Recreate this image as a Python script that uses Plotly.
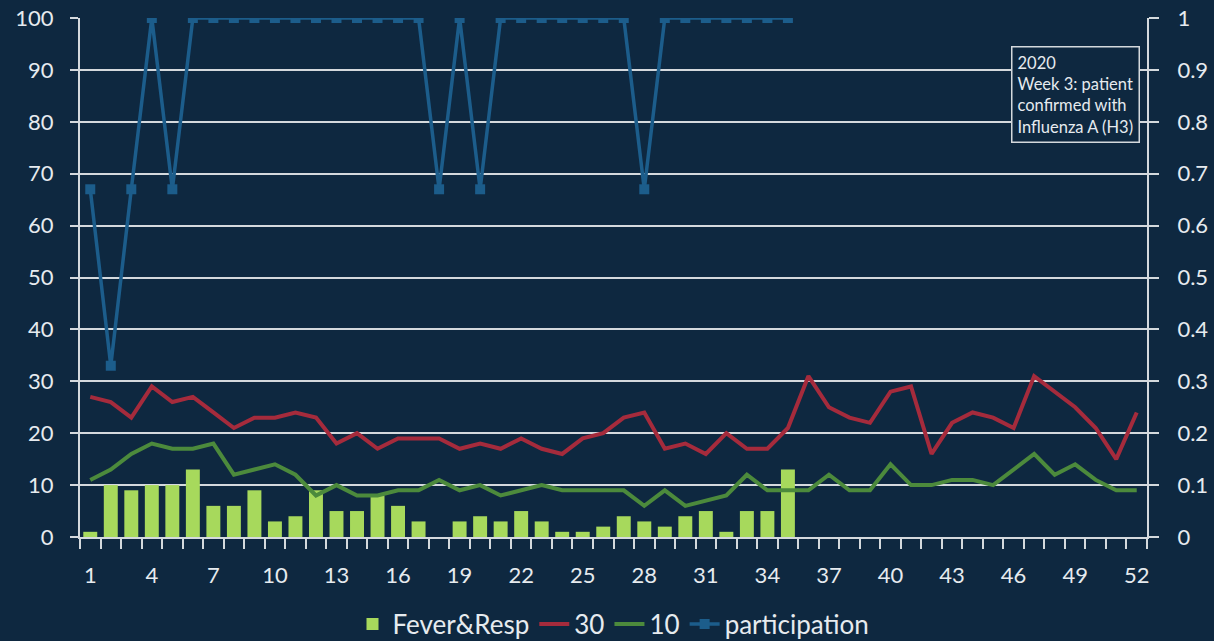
import plotly.graph_objects as go

weeks = list(range(1, 53))
fever_resp = [1, 10, 9, 10, 10, 13, 6, 6, 9, 3, 4, 9, 5, 5, 8, 6, 3, 0, 3, 4,
              3, 5, 3, 1, 1, 2, 4, 3, 2, 4, 5, 1, 5, 5, 13]
line_30 = [27, 26, 23, 29, 26, 27, 24, 21, 23, 23, 24, 23, 18, 20, 17, 19, 19, 19, 17, 18,
           17, 19, 17, 16, 19, 20, 23, 24, 17, 18, 16, 20, 17, 17, 21, 31, 25, 23, 22, 28,
           29, 16, 22, 24, 23, 21, 31, 28, 25, 21, 15, 24]
line_10 = [11, 13, 16, 18, 17, 17, 18, 12, 13, 14, 12, 8, 10, 8, 8, 9, 9, 11, 9, 10,
           8, 9, 10, 9, 9, 9, 9, 6, 9, 6, 7, 8, 12, 9, 9, 9, 12, 9, 9, 14,
           10, 10, 11, 11, 10, 13, 16, 12, 14, 11, 9, 9]
participation = [0.67, 0.33, 0.67, 1, 0.67, 1, 1, 1, 1, 1, 1, 1, 1, 1, 1, 1, 1, 0.67, 1, 0.67,
                 1, 1, 1, 1, 1, 1, 1, 0.67, 1, 1, 1, 1, 1, 1, 1]
x_tick_vals = list(range(1, 53, 3))
y_left_ticks = list(range(0, 101, 10))
y_right_ticks = [round(i / 10, 1) for i in range(0, 11)]
y_right_labels = ["0"] + [f"{v:g}" for v in y_right_ticks[1:]]
note_text = "2020<br>Week 3: patient<br>confirmed with<br>Influenza A (H3)"

BG = "#0e2840"
FG = "#e6ebef"
GRID = "#d4d9dd"
FONT = "Lato, Open Sans, sans-serif"

fig = go.Figure()
fig.add_trace(go.Bar(x=weeks[:len(fever_resp)], y=fever_resp, name="Fever&Resp",
                     marker=dict(color="#a7d95c", line=dict(width=0)), width=0.68))
fig.add_trace(go.Scatter(x=weeks, y=line_30, name="30", mode="lines",
                         line=dict(color="#a52b3c", width=4)))
fig.add_trace(go.Scatter(x=weeks, y=line_10, name="10", mode="lines",
                         line=dict(color="#4c8a3c", width=4)))
fig.add_trace(go.Scatter(x=weeks[:len(participation)], y=participation, name="participation",
                         mode="lines+markers", yaxis="y2",
                         line=dict(color="#1c5d8b", width=3.5),
                         marker=dict(symbol="square", size=10, color="#1c5d8b")))

fig.update_layout(
    template="none",
    width=1214, height=641,
    margin=dict(l=80, r=67, t=18, b=104, autoexpand=False),
    paper_bgcolor=BG, plot_bgcolor=BG,
    font=dict(family=FONT, color=FG, size=22),
    showlegend=True,
    legend=dict(orientation="h", x=0.5, xanchor="center", y=-0.168, yanchor="middle",
                font=dict(size=26, color=FG), bgcolor="rgba(0,0,0,0)",
                itemwidth=30, tracegroupgap=0),
    xaxis=dict(range=[0.5, 52.5], tickmode="array", tickvals=x_tick_vals,
               ticks="", showgrid=False, zeroline=False, automargin=False,
               showline=True, linecolor=GRID, linewidth=2,
               ticklabelstandoff=18,
               tickfont=dict(size=22, color=FG),
               minor=dict(ticks="outside", tick0=0.5, dtick=1, ticklen=10,
                          tickwidth=2, tickcolor=GRID, showgrid=False)),
    yaxis=dict(range=[0, 100], tickmode="array", tickvals=y_left_ticks,
               ticks="outside", ticklen=8, tickwidth=2, tickcolor=GRID,
               showgrid=True, gridcolor=GRID, gridwidth=2, zeroline=False,
               showline=True, linecolor=GRID, linewidth=2, automargin=False,
               ticklabelstandoff=12,
               tickfont=dict(size=22, color=FG)),
    yaxis2=dict(range=[0, 1], overlaying="y", side="right", tickmode="array",
                tickvals=y_right_ticks, ticktext=y_right_labels,
                ticks="outside", ticklen=10, tickwidth=2, tickcolor=GRID,
                showgrid=False, zeroline=False, automargin=False,
                showline=True, linecolor=GRID, linewidth=2,
                ticklabelstandoff=14,
                tickfont=dict(size=22, color=FG)),
    annotations=[dict(text=note_text, xref="paper", yref="paper",
                      x=0.993, y=0.946, xanchor="right", yanchor="top",
                      align="left", showarrow=False,
                      font=dict(size=16.5, color=FG, family=FONT),
                      bordercolor=GRID, borderwidth=1.5, borderpad=5,
                      bgcolor=BG)],
)

fig.write_html("out.html", config={"displayModeBar": False},
               post_script="document.body.style.margin='0';document.body.style.background='#0e2840';")
